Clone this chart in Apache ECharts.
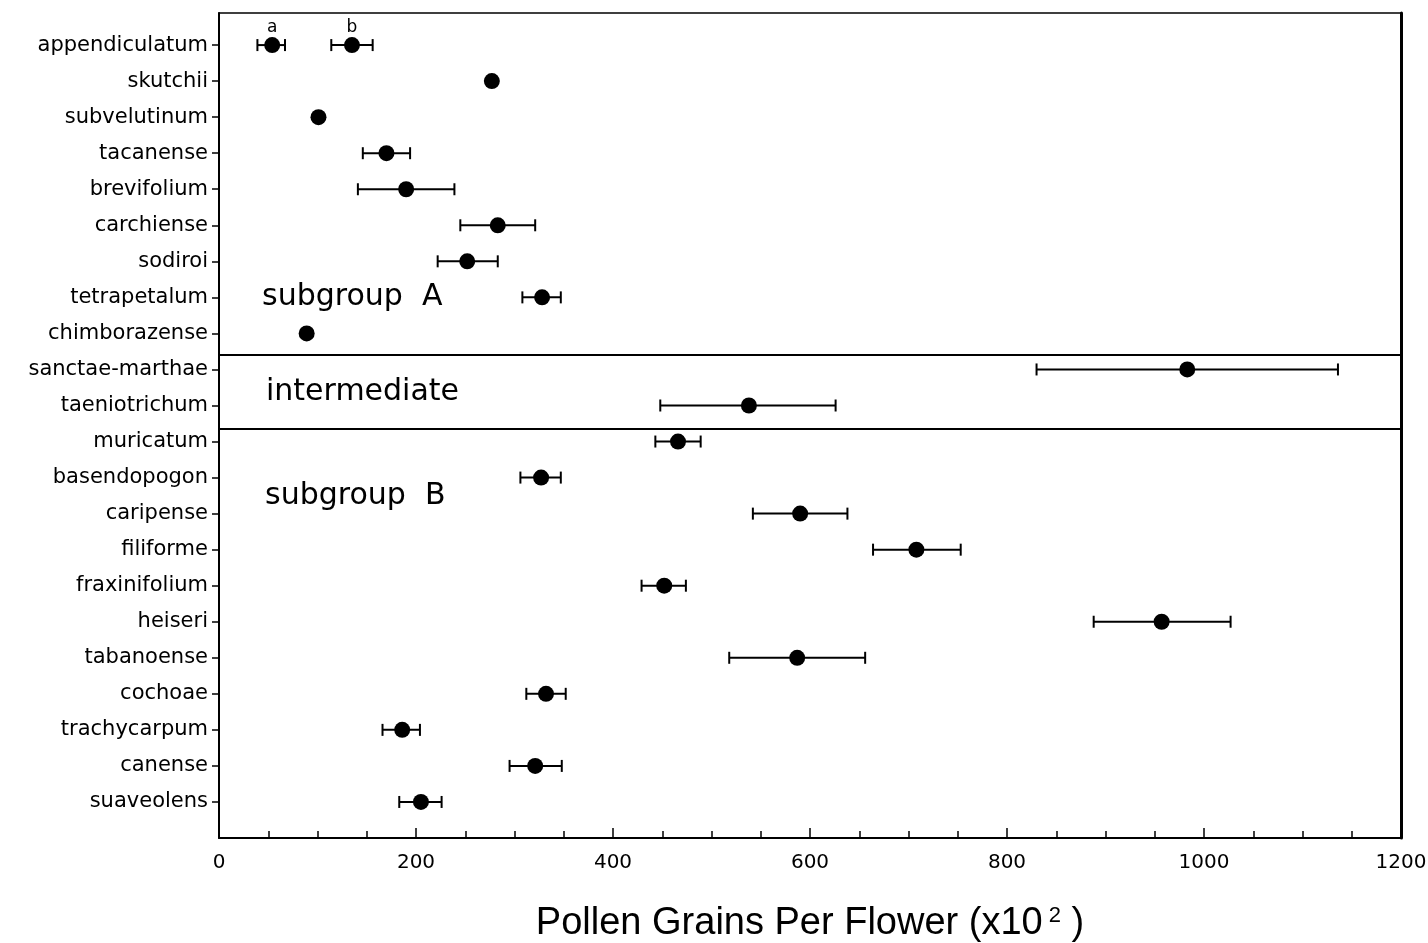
<!DOCTYPE html>
<html>
<head>
<meta charset="utf-8">
<script src="https://cdn.jsdelivr.net/npm/echarts@6/dist/echarts.min.js"></script>
<style>
  html, body { margin: 0; padding: 0; background: #fff; }
  #chart { width: 1428px; height: 943px; }
</style>
</head>
<body>
<div id="chart"></div>
<script>
// species, top to bottom
const species = ['appendiculatum', 'skutchii', 'subvelutinum', 'tacanense', 'brevifolium',
  'carchiense', 'sodiroi', 'tetrapetalum', 'chimborazense', 'sanctae-marthae', 'taeniotrichum',
  'muricatum', 'basendopogon', 'caripense', 'filiforme', 'fraxinifolium', 'heiseri',
  'tabanoense', 'cochoae', 'trachycarpum', 'canense', 'suaveolens'];
// mean pollen grains per flower (x10^2)
const means = [54, 277, 101, 170, 190, 283, 252, 328, 89, 983, 538,
  466, 327, 590, 708, 452, 957, 587, 332, 186, 321, 205];
// error bar ends (null = no bar)
const lows = [39, null, null, 146, 141, 245, 222, 308, null, 830, 448,
  443, 306, 542, 664, 429, 888, 518, 312, 166, 295, 183];
const highs = [67, null, null, 194, 239, 321, 283, 347, null, 1136, 626,
  489, 347, 638, 753, 474, 1027, 656, 352, 204, 348, 226];
// second sample of appendiculatum ("b"): mean, low, high
const appendB = [135, 114, 156];
const xTicks = [0, 200, 400, 600, 800, 1000, 1200];

const points = means.map((m, i) => ({ value: [m, i], label: { show: i === 0, formatter: 'a' } }));
points.push({ value: [appendB[0], 0], label: { show: true, formatter: 'b' } });

const bars = [];
species.forEach((s, i) => { if (lows[i] != null) bars.push([lows[i], highs[i], i]); });
bars.push([appendB[1], appendB[2], 0]);

const chart = echarts.init(document.getElementById('chart'));
const font = 'DejaVu Sans';

const option = {
  backgroundColor: '#fff',
  animation: false,
  grid: { left: 219, right: 27, top: 13, bottom: 105, outerBoundsMode: 'none', containLabel: false },
  xAxis: [{
    type: 'value', min: 0, max: 1200, interval: 200,
    axisLine: { onZero: false, lineStyle: { color: '#000', width: 2 } },
    axisTick: { inside: true, length: 10, lineStyle: { color: '#000', width: 1.5 } },
    minorTick: { show: true, splitNumber: 4, length: 7, lineStyle: { color: '#000', width: 1.5 } },
    splitLine: { show: false },
    axisLabel: { color: '#000', fontFamily: font, fontSize: 20, margin: 15,
      formatter: v => xTicks.includes(v) ? String(v) : '' },
    name: 'Pollen Grains Per Flower (x10{sup|2} )',
    nameLocation: 'middle', nameGap: 67,
    nameTextStyle: { color: '#000', fontFamily: 'Liberation Sans', fontSize: 38,
      rich: { sup: { fontFamily: 'Liberation Sans', fontSize: 22, verticalAlign: 'top', padding: [0, 0, 16, 6] } } }
  }, {
    type: 'value', position: 'top', min: 0, max: 1200,
    axisLine: { show: true, onZero: false, lineStyle: { color: '#000', width: 1.5 } },
    axisTick: { show: false }, axisLabel: { show: false }, splitLine: { show: false }
  }],
  yAxis: [{
    type: 'value', inverse: true, min: -0.89, max: 22,
    axisLine: { show: true, onZero: false, lineStyle: { color: '#000', width: 2 } },
    axisTick: { show: true, length: 7, customValues: species.map((s, i) => i),
      lineStyle: { color: '#000', width: 1.5 } },
    splitLine: { show: false },
    axisLabel: { color: '#000', fontFamily: font, fontSize: 21, margin: 11,
      customValues: species.map((s, i) => i),
      formatter: v => species[Math.round(v)] || '' }
  }, {
    type: 'value', position: 'right', inverse: true, min: -0.89, max: 22,
    axisLine: { show: true, onZero: false, lineStyle: { color: '#000', width: 3 } },
    axisTick: { show: false }, axisLabel: { show: false }, splitLine: { show: false }
  }],
  series: [{
    type: 'custom',
    name: 'error',
    data: bars,
    encode: { x: [0, 1], y: 2 },
    renderItem: function (params, api) {
      const y = api.value(2);
      const p1 = api.coord([api.value(0), y]);
      const p2 = api.coord([api.value(1), y]);
      const h = 6;
      const style = { stroke: '#000', lineWidth: 2 };
      return {
        type: 'group',
        children: [
          { type: 'line', shape: { x1: p1[0], y1: p1[1], x2: p2[0], y2: p2[1] }, style: style },
          { type: 'line', shape: { x1: p1[0], y1: p1[1] - h, x2: p1[0], y2: p1[1] + h }, style: style },
          { type: 'line', shape: { x1: p2[0], y1: p2[1] - h, x2: p2[0], y2: p2[1] + h }, style: style }
        ]
      };
    },
    z: 2
  }, {
    type: 'scatter',
    name: 'mean',
    data: points,
    symbol: 'circle',
    symbolSize: 16,
    itemStyle: { color: '#000', opacity: 1 },
    label: { position: 'top', distance: 1, color: '#000', fontFamily: font, fontSize: 17 },
    markLine: {
      silent: true, symbol: 'none', label: { show: false },
      lineStyle: { color: '#000', width: 2, type: 'solid' },
      data: [{ yAxis: 8.6 }, { yAxis: 10.64 }]
    },
    z: 3
  }],
  graphic: [
    { type: 'text', left: 262, top: 282, style: { text: 'subgroup  A', font: '30px "DejaVu Sans"', fill: '#000' } },
    { type: 'text', left: 266, top: 377, style: { text: 'intermediate', font: '30px "DejaVu Sans"', fill: '#000' } },
    { type: 'text', left: 265, top: 481, style: { text: 'subgroup  B', font: '30px "DejaVu Sans"', fill: '#000' } }
  ]
};

chart.setOption(option);
window.addEventListener('resize', () => { chart.resize(); });
</script>
</body>
</html>
